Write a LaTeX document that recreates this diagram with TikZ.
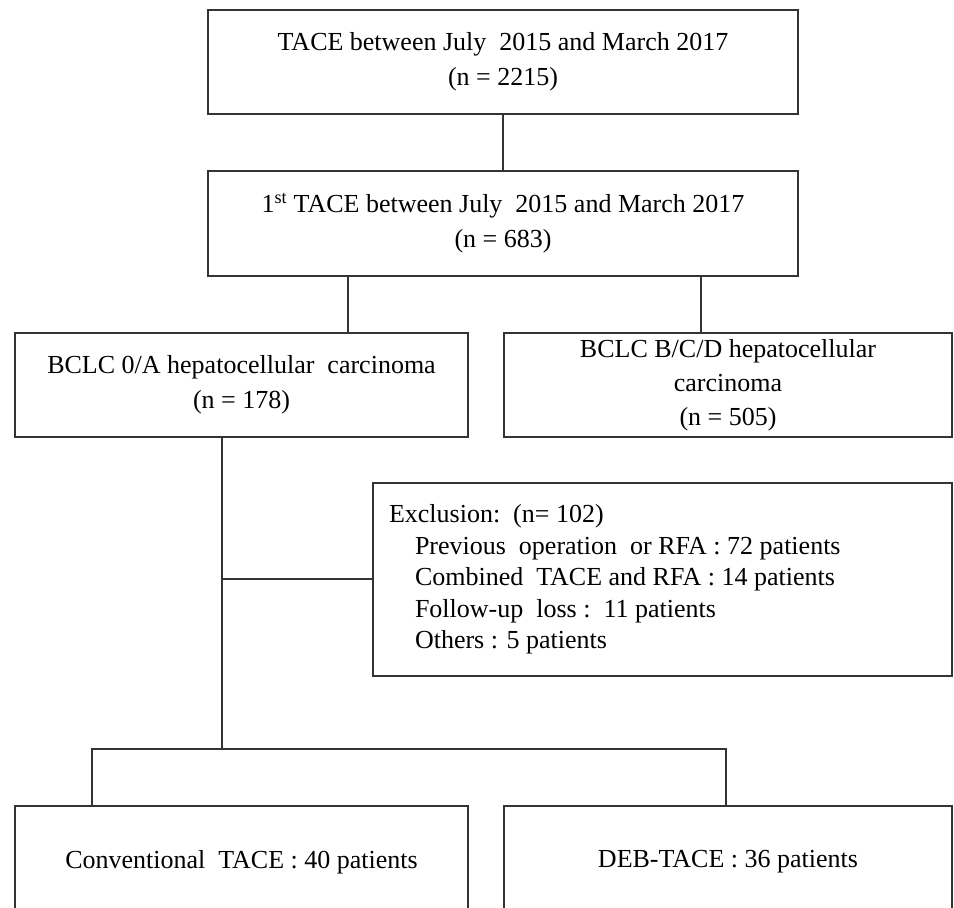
\documentclass[tikz,border=0pt]{standalone}
\usepackage{fontspec}
\setmainfont{Liberation Serif}
\usetikzlibrary{positioning}
\definecolor{linegray}{HTML}{333333}
\tikzset{
	flowbox/.style={rectangle,draw=linegray,line width=2pt,align=center,inner sep=0pt,
		font=\fontsize{26}{35}\selectfont},
	link/.style={draw=linegray,line width=2pt},
}

\begin{document}
\begin{tikzpicture}[
			node distance=161.5pt,
			]
			\useasboundingbox (0,0) rectangle (954pt,908pt);
			\node [flowbox,minimum width=590pt,minimum height=104pt] (tace) at (503pt,846pt) {TACE between July\ \ 2015 and March 2017\\ (n = 2215)};
			\node [flowbox,minimum width=590pt,minimum height=105pt,below of=tace] (first) {1\textsuperscript{st} TACE between July\ \ 2015 and March 2017\\ (n = 683)};
			\node [flowbox,minimum width=453pt,minimum height=104pt] (bclcA) at (241.5pt,523pt) {BCLC 0/A hepatocellular\ \ carcinoma\\ (n = 178)};
			\node [flowbox,minimum width=448pt,minimum height=104pt,right of=bclcA,node distance=486.5pt,
				font=\fontsize{26}{34}\selectfont] (bclcB) {BCLC B/C/D hepatocellular\\ carcinoma\\ (n = 505)};
			\node [flowbox,text width=547pt,inner xsep=16pt,minimum height=193pt,align=flush left,
				font=\fontsize{26}{31.5}\selectfont] (excl) at (662.5pt,328.5pt) {Exclusion:\ \ (n= 102)\\
				\hspace*{26pt}Previous\ \ operation\ \ or RFA : 72 patients\\
				\hspace*{26pt}Combined\ \ TACE and RFA : 14 patients\\
				\hspace*{26pt}Follow-up\ \ loss :\ \ 11 patients\\
				\hspace*{26pt}Others : 5 patients};
			\node [flowbox,minimum width=453pt,minimum height=112pt] (conv) at (241.5pt,46pt) {Conventional\ \ TACE : 40 patients};
			\node [flowbox,minimum width=448pt,minimum height=112pt,right of=conv,node distance=486.5pt] (deb) {DEB-TACE : 36 patients};
			\coordinate (fork) at (222pt,159pt);
			\path [link] (tace) -- (first);
			\path [link] ([xshift=106.5pt]bclcA.north) -- ([xshift=106.5pt]bclcA.north |- first.south);
			\path [link] ([xshift=-27pt]bclcB.north) -- ([xshift=-27pt]bclcB.north |- first.south);
			\path [link] (bclcA.south -| fork) -- (fork);
			\path [link] (excl.west) -- (excl.west -| fork);
			\path [link] ([xshift=-149.5pt]conv.north) |- ([xshift=-2pt]deb.north |- fork) -- ([xshift=-2pt]deb.north);
		\end{tikzpicture}
\end{document}
